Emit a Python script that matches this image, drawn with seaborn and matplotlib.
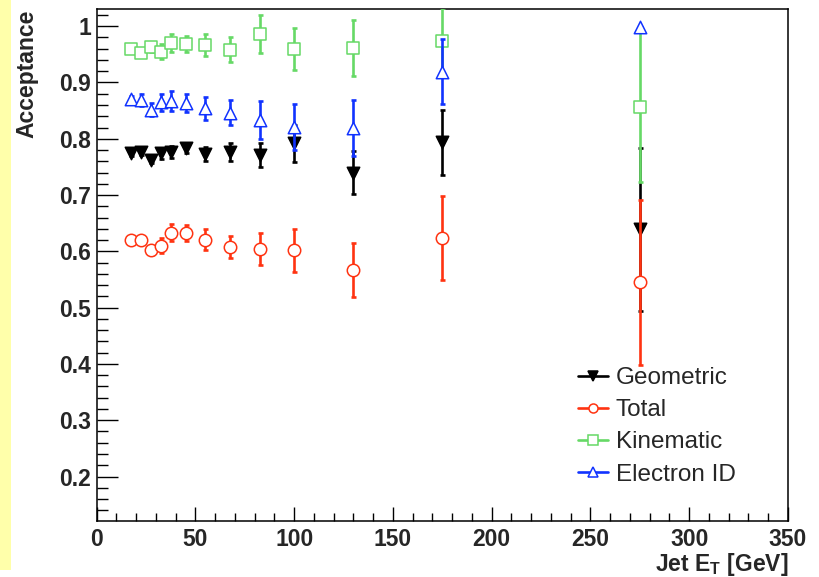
import pandas as pd
import matplotlib
matplotlib.use('Agg')
import matplotlib.pyplot as plt
import seaborn as sns
from matplotlib.patches import Rectangle
from matplotlib.lines import Line2D
from matplotlib.ticker import MultipleLocator, FuncFormatter

# data
jet_et = [17.5, 22.5, 27.5, 32.5, 37.5, 45, 55, 67.5, 82.5, 100, 130, 175, 275]

geometric = [0.775, 0.777, 0.762, 0.774, 0.777, 0.783, 0.773, 0.777, 0.771, 0.792, 0.740, 0.794, 0.639]
geometric_err = [0.005, 0.005, 0.005, 0.010, 0.011, 0.009, 0.013, 0.016, 0.021, 0.033, 0.038, 0.058, 0.145]

total = [0.621, 0.620, 0.602, 0.610, 0.633, 0.633, 0.621, 0.608, 0.604, 0.602, 0.567, 0.624, 0.545]
total_err = [0.005, 0.005, 0.008, 0.013, 0.015, 0.014, 0.019, 0.020, 0.029, 0.038, 0.048, 0.074, 0.147]

kinematic = [0.960, 0.952, 0.963, 0.955, 0.971, 0.969, 0.967, 0.958, 0.986, 0.959, 0.961, 0.973, 0.857]
kinematic_err = [0.005, 0.005, 0.008, 0.014, 0.016, 0.014, 0.020, 0.022, 0.033, 0.037, 0.050, 0.060, 0.133]

electron_id = [0.871, 0.869, 0.852, 0.865, 0.867, 0.864, 0.854, 0.846, 0.833, 0.821, 0.819, 0.919, 0.999]
electron_id_err = [0.005, 0.010, 0.011, 0.015, 0.018, 0.016, 0.020, 0.022, 0.034, 0.041, 0.050, 0.058, 0.0]

series = [
    ('Geometric', geometric, geometric_err, '#000000', 'v', True),
    ('Total', total, total_err, '#ff3311', 'o', False),
    ('Kinematic', kinematic, kinematic_err, '#66d966', 's', False),
    ('Electron ID', electron_id, electron_id_err, '#1133ff', '^', False),
]

sns.set_style('ticks')
plt.rcParams['font.family'] = ['Liberation Sans', 'DejaVu Sans']
plt.rcParams['mathtext.fontset'] = 'custom'
plt.rcParams['mathtext.rm'] = 'Liberation Sans:bold'
plt.rcParams['mathtext.bf'] = 'Liberation Sans:bold'

fig = plt.figure(figsize=(8.2, 5.77), dpi=100)
fig.add_artist(Rectangle((0, 7 / 577), 11 / 820, 570 / 577, transform=fig.transFigure,
                         facecolor='#ffffaa', edgecolor='none'))
ax = fig.add_axes([96.7 / 820, 56 / 577, 691.3 / 820, 511.7 / 577])

handles = []
for i, (name, vals, errs, col, mk, filled) in enumerate(series):
    df = pd.DataFrame({'et': jet_et, 'acc': vals, 'err': errs})
    ax.errorbar(df['et'], df['acc'], yerr=df['err'], fmt='none', ecolor=col,
                elinewidth=1.9, capsize=1.8, capthick=1.9, zorder=2 + 2 * i)
    face = col if filled else 'white'
    sns.scatterplot(data=df, x='et', y='acc', ax=ax, marker=mk, s=80,
                    facecolor=face, edgecolor=col, linewidth=1.1, zorder=3 + 2 * i)
    handles.append(Line2D([], [], color=col, lw=1.9, marker=mk, markersize=6.5,
                          markerfacecolor=face, markeredgecolor=col, markeredgewidth=1.1))

ax.set_xlim(0, 350)
ax.set_ylim(0.121, 1.030)

ax.xaxis.set_major_locator(MultipleLocator(50))
ax.xaxis.set_minor_locator(MultipleLocator(10))
ax.yaxis.set_major_locator(MultipleLocator(0.1))
ax.yaxis.set_minor_locator(MultipleLocator(0.02))
ax.yaxis.set_major_formatter(FuncFormatter(lambda v, p: '%g' % round(v, 2)))

ax.tick_params(axis='both', which='both', direction='in', color='black', width=1.0,
               top=False, right=False, labelsize=16.5)
ax.tick_params(axis='y', which='major', length=15, pad=4)
ax.tick_params(axis='y', which='minor', length=8)
ax.tick_params(axis='x', which='major', length=10, pad=5)
ax.tick_params(axis='x', which='minor', length=5.5)
for lab in ax.get_xticklabels() + ax.get_yticklabels():
    lab.set_fontweight('bold')

for sp in ax.spines.values():
    sp.set_linewidth(1.1)
    sp.set_color('black')

ax.set_xlabel(r'Jet E$_{\mathrm{T}}$ [GeV]', fontsize=16.5, fontweight='bold', loc='right')
ax.xaxis.set_label_coords(1.0, -0.058)
ax.set_ylabel('Acceptance', fontsize=16.5, fontweight='bold', loc='top')
ax.yaxis.set_label_coords(-0.085, 1.0)

leg = fig.legend(handles, [s[0] for s in series], loc='upper left',
                 bbox_to_anchor=(578 / 820, 1 - 367 / 577), frameon=False,
                 fontsize=17.5, borderpad=0, borderaxespad=0, handlelength=1.23,
                 handletextpad=0.33, labelspacing=0.42)

fig.savefig('out.png', dpi=100)
